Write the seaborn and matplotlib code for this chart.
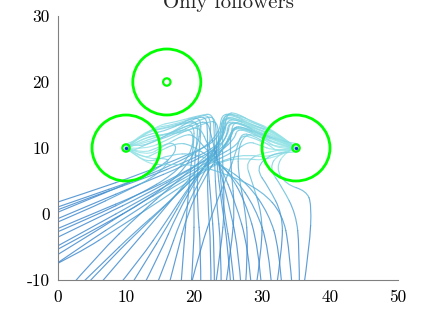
import numpy as np
import matplotlib
matplotlib.use("Agg")
import matplotlib.pyplot as plt
from matplotlib.path import Path
from matplotlib.patches import PathPatch, Circle
from matplotlib.colors import LinearSegmentedColormap
import seaborn as sns
import pandas as pd

# ---------------- data ----------------
title = "Only followers"
x_ticks = [0, 10, 20, 30, 40, 50]
y_ticks = [-10, 0, 10, 20, 30]
y_tick_labels = ["-10", "0", "10", "20", "30"]

target_x = [10, 16, 35]
target_y = [10, 20, 10]
target_r = [5, 5, 5]
leader_x = [10, 35]
leader_y = [10, 10]

# follower trajectories (waypoints)
traj_to_left = [
    [(-3, -4), (5, -0.5), (12, 3), (17, 6), (19.5, 9), (20, 12), (19, 13), (16, 12), (13, 11.8), (10, 10)],
    [(-3, -7), (6, -2), (13, 2), (18, 6), (20.5, 10), (21, 13.5), (19.5, 14), (16, 13), (13, 12.5), (10, 10)],
    [(-3, -1), (4, 2), (10, 4.5), (15, 7), (17.5, 9.5), (17, 11), (14.5, 10), (12.5, 9.2), (10, 10)],
    [(-3, -2.5), (4, 0.5), (10, 3.5), (14, 5.5), (16.5, 8), (15.5, 8.5), (13, 8.3), (10, 10)],
    [(21, -12), (21, -5), (20.5, 1), (20.5, 7), (21, 12), (21, 14.5), (19.5, 14.5), (16.5, 12.8), (13, 12), (10.8, 10.9), (9.4, 10.3), (10, 10)],
    [(22.5, -12), (22.5, -5), (22, 2), (22, 8), (22.5, 12.5), (22.3, 15), (20.5, 14.8), (17, 13.5), (13.5, 13), (10, 10)],
    [(24, -12), (24, -5), (23.3, 2), (23, 8), (23, 12.5), (22.8, 15.2), (21, 15), (17.5, 14), (14, 13.3), (10, 10)],
    [(25.5, -12), (25, -5), (24, 2), (23.3, 8), (23.3, 12.5), (23, 14.8), (21.3, 14.5), (18, 12.8), (14, 11.5), (12, 10.8), (10, 10)],
    [(27, -12), (26.5, -5), (25, 2), (23.5, 8), (22.5, 12), (22, 14), (20.5, 13.8), (17, 12), (13.5, 10.8), (10.5, 9.3), (9.5, 9.8), (10, 10)],
    [(28.5, -12), (28, -5), (26, 2), (24, 7), (22, 10.5), (21, 13), (19.5, 13), (16, 11.2), (13, 9.8), (10, 10)],
    [(30, -12), (29.5, -5), (27.5, 2), (25, 6.5), (22, 9.5), (20, 12), (18.5, 12), (15.5, 10.3), (13, 8.7), (10, 10)],
    [(31.5, -12), (31, -5), (29, 1), (26, 5.5), (22.5, 8.5), (19.5, 10.5), (17.5, 10.8), (14.5, 9.3), (12.5, 8.3), (10, 10)],
    [(33, -12), (32.5, -5), (31, 0), (28, 4.5), (24, 7.5), (20, 9.2), (16.5, 9), (13.5, 7.8), (11.5, 8.8), (10, 10)],
    [(34.5, -12), (34, -5), (33, 0), (30, 3.5), (25, 6), (20, 7.5), (16, 7.5), (13, 7.5), (10, 10)],
    [(26, -12), (25.5, -6), (24.5, 0), (23.8, 6), (23.6, 11), (23.5, 14), (22, 14), (18.5, 12.3), (14.5, 12), (12, 11.2), (10, 10)],
    [(18, -12), (18.5, -5), (19, 1), (19.5, 7), (20, 11), (20, 13.5), (18.5, 13.3), (15.5, 11.5), (12.5, 10.8), (10, 10)],
    [(19.5, -12), (20, -5), (20, 1), (20, 7), (20.5, 11.5), (20.5, 14), (19, 14), (15.5, 13), (12.5, 12.5), (10, 10)],
    [(23, -12), (23, -5), (22.5, 2), (22, 8), (22, 12.5), (21.8, 14.8), (20, 14.5), (16.5, 12.2), (13, 10.4), (11, 10.4), (9.6, 10.6), (10, 10)],
]

traj_to_right = [
    [(-3, 0.8), (5, 3.5), (12, 6), (18, 8.5), (22.5, 10.5), (24, 12.5), (24.2, 14.8), (25.8, 15), (28.5, 13.5), (32, 12.3), (35, 10)],
    [(-3, -0.5), (6, 3), (13, 5.5), (19, 8), (23, 10), (24.5, 12), (24.8, 14.2), (26.3, 14.3), (29, 13), (32, 11.8), (35, 10)],
    [(-3, -2), (5, 1.5), (12, 4.5), (19, 7.5), (23.5, 10), (25, 12), (25.2, 13.8), (26.8, 13.8), (29.5, 12.5), (32, 11.3), (35, 10)],
    [(-3, -3.5), (5, 0), (12, 3), (18, 6), (23, 9), (25.5, 11.5), (25.8, 13.2), (27.3, 13.2), (30, 11.5), (32.5, 10.5), (35, 10)],
    [(-3, -5), (6, -0.5), (13, 3), (19, 6.5), (24, 9.5), (26, 11.5), (26.3, 12.8), (27.8, 12.6), (30.5, 11.2), (32.5, 9.8), (35, 10)],
    [(-3, -6.5), (5, -2), (12, 2), (18, 5.5), (23, 8.5), (26.5, 10.5), (27, 12.2), (28.5, 12), (31, 10.5), (32.5, 9.2), (35, 10)],
    [(-3, -8), (5, -3), (11, 1), (17, 4.5), (22, 7.5), (26, 9.5), (28, 11), (29.5, 10.5), (32, 9.5), (35, 10)],
    [(-3, -9.5), (4, -4.5), (10, -0.5), (16, 3.5), (21, 6.5), (25, 8.5), (28, 9), (31, 8.5), (35, 10)],
    [(-3, -9), (3, -6), (9, -2), (15, 2), (20, 5.5), (24, 8), (27, 8.5), (31, 8), (35, 10)],
    [(-3, 0), (4, 2.5), (11, 5), (17, 7.5), (21.5, 10), (23.8, 12.5), (24, 15), (25.5, 15.2), (28, 14), (31.5, 12.8), (35, 10)],
    [(1, -12), (6, -6), (12, 0), (17, 4.5), (21, 8), (24, 11), (24.6, 13.8), (26, 14), (28.8, 13), (32, 12), (35, 10)],
    [(3, -12), (8, -6.5), (13, -1.5), (18, 3.5), (22, 7.5), (25, 10.5), (25.8, 13), (27.2, 13), (30, 12), (32.5, 11), (35, 10)],
    [(5, -12), (10, -6), (15, 0), (19, 5), (22.5, 9), (24.3, 12), (24.5, 14.5), (26, 14.6), (29, 13.3), (32, 12.5), (35, 10)],
    [(8, -12), (12, -7), (16, -1), (19.5, 4.5), (22.5, 8.5), (24.8, 11.5), (25, 13.8), (26.5, 13.8), (29.5, 12.3), (32.5, 11.5), (35, 10)],
    [(12, -12), (15, -6), (17.5, 0), (20.5, 5.5), (23, 9.5), (24.2, 12.5), (24.4, 15), (25.8, 15.2), (28.3, 14.2), (32, 12.6), (35, 10)],
    [(16, -12), (17.5, -6), (19, 0), (21.5, 5.5), (24, 9.5), (25.5, 12), (25.7, 13.8), (27, 13.8), (29.8, 12), (32.5, 10.3), (35, 10)],
    [(19.5, -11), (21, -5), (23, 1), (25, 6), (26.2, 9.5), (26.8, 11.8), (28.2, 11.8), (31.5, 10.2), (35, 10)],
    [(2, -12), (7, -7), (11, -3), (16, 1.5), (21, 6.5), (24.5, 10), (25.5, 12.8), (27, 13), (30, 11.8), (32.5, 11), (35, 10)],
    [(10, -12), (13, -7), (16, -2), (19, 3.5), (22, 8), (23.9, 11.5), (24, 14.3), (25.5, 14.5), (28.5, 13.4), (32, 12.2), (35, 10)],
    [(14, -12), (16, -7), (18, -1), (20.5, 4.5), (23, 9), (24.5, 12.5), (24.8, 15.3), (26.3, 15.3), (28.8, 13.8), (32, 12.4), (35, 10)],
    [(36, -12), (37, -5), (37.3, 1.5), (36.5, 3.5), (33.5, 4.5), (32, 7), (33.5, 9.5), (35, 10)],
    [(35.5, -12), (35.5, -5), (35, 0), (33, 4), (31, 7), (32.5, 9.2), (35, 10)],
    [(32, -12), (33, -5), (33, 0), (31, 4), (29, 7), (31.5, 9.2), (34.2, 9.3), (35.6, 9.6), (35, 10)],
    [(29, -12), (30, -5), (30, 0), (28.5, 5), (27.5, 8), (30.5, 9.5), (35, 10)],
    [(27.5, -12), (28, -5), (27.5, 1), (26.5, 6), (26.5, 10), (27.5, 12), (29, 12), (31.5, 11), (35, 10)],
    [(24.5, -12), (25.5, -5), (26, 1), (25.5, 6), (25.3, 10.5), (25.5, 13), (27, 13.3), (30, 12), (34, 10.8), (35.8, 10.6), (35, 10)],
    [(23, -12), (24, -5), (24.5, 1), (24.2, 7), (24.2, 12), (24.3, 14.5), (25.8, 14.7), (28.5, 13.2), (35, 10)],
]

# ---------------- style ----------------
sns.set_theme(style="white")
plt.rcParams["font.family"] = ["cmr10", "DejaVu Serif"]
plt.rcParams["axes.formatter.use_mathtext"] = True

fig = plt.figure(figsize=(4.23, 3.17), dpi=100)
ax = fig.add_axes([58 / 423, 37 / 317, 340 / 423, 264 / 317])

cmap = LinearSegmentedColormap.from_list(
    "traj", [(0.22, 0.52, 0.80), (0.38, 0.74, 0.86), (0.58, 0.89, 0.90)])


def draw_traj(ax, pts):
    p = np.asarray(pts, dtype=float)
    n = len(p)
    # quadratic B-spline rendering: waypoints used as Bezier control points
    on = [p[0]] + [(p[k] + p[k + 1]) / 2 for k in range(1, n - 2)] + [p[-1]]
    nseg = n - 2
    for i in range(nseg):
        verts = [on[i], p[i + 1], on[i + 1]]
        path = Path(verts, [Path.MOVETO, Path.CURVE3, Path.CURVE3])
        c = cmap(i / max(nseg - 1, 1))
        ax.add_patch(PathPatch(path, facecolor="none", edgecolor=c,
                               lw=0.85, alpha=0.8, capstyle="round"))


for t in traj_to_right + traj_to_left:
    draw_traj(ax, t)

for cx, cy, r in zip(target_x, target_y, target_r):
    ax.add_patch(Circle((cx, cy), r, facecolor="none", edgecolor="#00ff00", lw=2, zorder=5))

tdf = pd.DataFrame({"x": target_x, "y": target_y})
sns.scatterplot(data=tdf, x="x", y="y", ax=ax, marker="o", s=28,
                facecolors="none", edgecolor="#00ff00", linewidth=1.6, zorder=6)
ldf = pd.DataFrame({"x": leader_x, "y": leader_y})
sns.scatterplot(data=ldf, x="x", y="y", ax=ax, marker="o", s=6,
                color="#1030c0", linewidth=0, zorder=7)

ax.set_xlim(0, 50)
ax.set_ylim(-10, 30)
ax.set_xticks(x_ticks)
ax.set_xticklabels([str(v) for v in x_ticks])
ax.set_yticks(y_ticks)
ax.set_yticklabels(y_tick_labels)
ax.set_xlabel("")
ax.set_ylabel("")

for s in ["top", "right"]:
    ax.spines[s].set_visible(False)
for s in ["left", "bottom"]:
    ax.spines[s].set_color("#808080")
    ax.spines[s].set_linewidth(0.8)
ax.tick_params(axis="both", direction="in", length=4, width=0.8,
               color="#808080", labelcolor="black", labelsize=12.5)
ax.tick_params(axis="x", pad=7)
ax.tick_params(axis="y", pad=6)
ax.set_title(title, fontsize=15, pad=5.8)

fig.savefig("out.png", dpi=100)
